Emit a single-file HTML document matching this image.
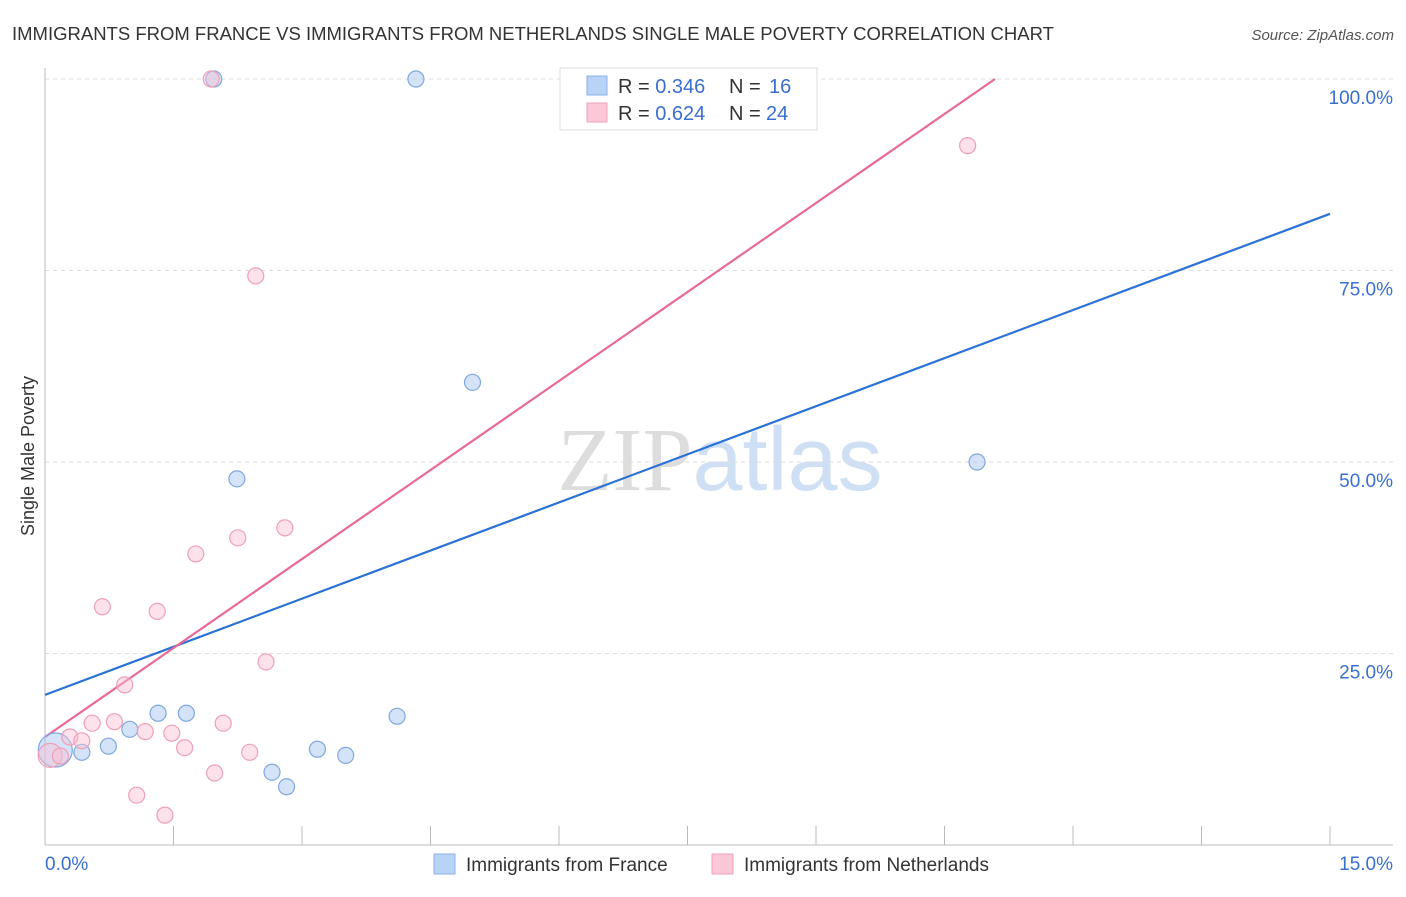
<!DOCTYPE html>
<html><head><meta charset="utf-8"><style>
body{margin:0;background:#fff;font-family:"Liberation Sans",sans-serif}
</style></head><body>
<svg width="1406" height="892" xmlns="http://www.w3.org/2000/svg" style="font-family:'Liberation Sans',sans-serif">
<text x="12" y="40" font-size="18.5" fill="#333">IMMIGRANTS FROM FRANCE VS IMMIGRANTS FROM NETHERLANDS SINGLE MALE POVERTY CORRELATION CHART</text>
<text x="1394" y="40" font-size="15" fill="#555" text-anchor="end" font-style="italic">Source: ZipAtlas.com</text>
<text x="720" y="490" font-size="90" text-anchor="middle"><tspan fill="#ddd" font-family="Liberation Serif">ZIP</tspan><tspan fill="#cfe0f5">atlas</tspan></text>
<g id="grid"></g><g id="axes"></g><g id="lines"></g><g id="pts"></g>
<text transform="translate(34,456) rotate(-90)" font-size="18" fill="#333" text-anchor="middle">Single Male Poverty</text>
<g>
<rect x="560" y="68" width="257" height="62" fill="#fff" stroke="#ddd"/>
<rect x="587" y="76" width="20" height="19" fill="#b8d3f5" stroke="#8ab2e8"/>
<rect x="587" y="103" width="20" height="19" fill="#fcc8d7" stroke="#f0a0b8"/>
<text x="618" y="93" font-size="20" fill="#333">R = <tspan fill="#3a6fd0">0.346</tspan></text>
<text x="729" y="93" font-size="20" fill="#333">N = </text><text x="769" y="93" font-size="20" fill="#3a6fd0">16</text>
<text x="618" y="120" font-size="20" fill="#333">R = <tspan fill="#3a6fd0">0.624</tspan></text>
<text x="729" y="120" font-size="20" fill="#333">N = </text><text x="766" y="120" font-size="20" fill="#3a6fd0">24</text>
</g>
<g>
<rect x="434" y="854" width="21" height="20" fill="#b8d3f5" stroke="#8ab2e8"/>
<text x="466" y="871" font-size="19" fill="#333">Immigrants from France</text>
<rect x="712" y="854" width="21" height="20" fill="#fcc8d7" stroke="#f0a0b8"/>
<text x="744" y="871" font-size="19" fill="#333">Immigrants from Netherlands</text>
</g>
</svg>
<script>
const blueX=[0.12,0.43,0.74,0.99,1.32,1.65,2.24,2.65,2.82,3.18,3.51,4.11,4.33,4.99,10.88,1.97];
const blueY=[12.4,12.1,12.9,15.1,17.2,17.2,47.8,9.5,7.6,12.5,11.7,16.8,100,60.4,50.0,100];
const blueR=[17,8,8,8,8,8,8,8,8,8,8,8,8,8,8,8];
const pinkX=[0.06,0.18,0.29,0.43,0.55,0.67,0.81,0.93,1.07,1.17,1.31,1.40,1.48,1.63,1.76,1.98,2.08,2.25,2.39,2.46,2.58,2.80,10.77,1.94];
const pinkY=[11.7,11.6,14.1,13.6,15.9,31.1,16.1,20.9,6.5,14.8,30.5,3.9,14.6,12.7,38.0,9.4,15.9,40.1,12.1,74.3,23.9,41.4,91.3,100];
const pinkR=[12,8,8,8,8,8,8,8,8,8,8,8,8,8,8,8,8,8,8,8,8,8,8,8];
const blueLineX=[0,15], blueLineY=[19.6,82.4];
const pinkLineX=[0,11.09], pinkLineY=[14.1,100];
const yTicks=[25,50,75,100];
const yTickLabels=["25.0%","50.0%","75.0%","100.0%"];
const xTicks=[0,1.5,3,4.5,6,7.5,9,10.5,12,13.5,15];
const NS="http://www.w3.org/2000/svg";
const sx=v=>45+v/15*1285, sy=v=>845-v/100*766;
function mk(tag,attrs,parent){const e=document.createElementNS(NS,tag);for(const k in attrs)e.setAttribute(k,attrs[k]);document.getElementById(parent).appendChild(e);return e;}
yTicks.forEach((t,i)=>{
 const l=mk('line',{x1:45,x2:1393,y1:sy(t),y2:sy(t),stroke:'#ddd','stroke-dasharray':'4,4'},'grid');
 
 
 const tx=mk('text',{x:1393,y:sy(t)+25,'font-size':19,fill:'#3a6fd0','text-anchor':'end'},'grid');
 tx.textContent=yTickLabels[i];
 
 
});
const ax=mk('line',{x1:45,x2:1393,y1:845,y2:845,stroke:'#bbb'},'axes');


const ay=mk('line',{x1:45,x2:45,y1:68,y2:845,stroke:'#bbb'},'axes');


xTicks.slice(1).forEach(t=>{
 const l=mk('line',{x1:sx(t),x2:sx(t),y1:826,y2:845,stroke:'#bbb'},'axes');
 
 
});
const x0=mk('text',{x:45,y:870,'font-size':19,fill:'#3a6fd0'},'axes');x0.textContent="0.0%";


const x1=mk('text',{x:1393,y:870,'font-size':19,fill:'#3a6fd0','text-anchor':'end'},'axes');x1.textContent="15.0%";


function pts(X,Y,R,fill,stroke,name){X.forEach((x,i)=>{
 const c=mk('circle',{cx:sx(x),cy:sy(Y[i]),r:R[i],fill:fill,stroke:stroke,'stroke-width':1.2},'pts');
 
 
});}
pts(blueX,blueY,blueR,'rgba(170,200,240,0.5)','#7fa8e0','france-point');
pts(pinkX,pinkY,pinkR,'rgba(250,190,210,0.45)','#eea0b8','netherlands-point');
const bl=mk('line',{x1:sx(blueLineX[0]),y1:sy(blueLineY[0]),x2:sx(blueLineX[1]),y2:sy(blueLineY[1]),stroke:'#2a72d8','stroke-width':2.2},'lines');


const pl=mk('line',{x1:sx(pinkLineX[0]),y1:sy(pinkLineY[0]),x2:sx(pinkLineX[1]),y2:sy(pinkLineY[1]),stroke:'#e8699a','stroke-width':2.2},'lines');


</script>
</body></html>
